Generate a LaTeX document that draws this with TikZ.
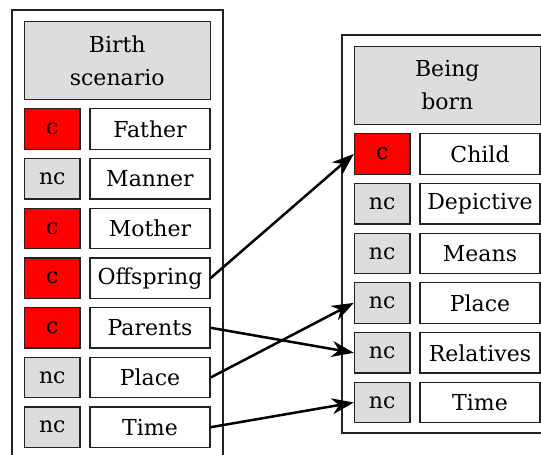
\documentclass[tikz,border=0pt]{standalone}
\usepackage{fontspec}
\setmainfont{DejaVu Serif}
\usetikzlibrary{arrows.meta}
\definecolor{boxgray}{HTML}{DDDDDD}
\definecolor{edge}{HTML}{222222}
\begin{document}
\begin{tikzpicture}[x=1pt,y=-1pt,
  every node/.style={font=\fontsize{22}{33}\selectfont, inner sep=0pt, draw=edge, line width=1.3pt, align=center},
  headbox/.style={fill=boxgray, minimum width=186pt, minimum height=78pt},
  ctag/.style={fill=red, minimum width=55.5pt, minimum height=40.5pt},
  nctag/.style={fill=boxgray, minimum width=55.5pt, minimum height=40.5pt},
  namebox/.style={fill=white, minimum width=120pt, minimum height=40.5pt},
  frame/.style={draw=edge, line width=1.3pt},
  link/.style={line width=2.5pt, -{Stealth[length=22pt,width=16pt,inset=7pt]}}]
\useasboundingbox (0,0) rectangle (541,455);
% frames
\draw[frame] (12,455) -- (12,10) -- (223,10) -- (223,455);
\draw[frame] (541,35) -- (342,35) -- (342,433) -- (541,433);
% left
\node[headbox] (lh) at (117.25,60.7) {Birth\\scenario};
\node[ctag] (lfathert) at (52.25,129) {c};
\node[namebox] (lfather) at (150,129) {Father};
\node[nctag] (lmannert) at (52.25,178.7) {nc};
\node[namebox] (lmanner) at (150,178.7) {Manner};
\node[ctag] (lmothert) at (52.25,228.4) {c};
\node[namebox] (lmother) at (150,228.4) {Mother};
\node[ctag] (loffspringt) at (52.25,278.1) {c};
\node[namebox] (loffspring) at (150,278.1) {Offspring};
\node[ctag] (lparentst) at (52.25,327.8) {c};
\node[namebox] (lparents) at (150,327.8) {Parents};
\node[nctag] (lplacet) at (52.25,377.5) {nc};
\node[namebox] (lplace) at (150,377.5) {Place};
\node[nctag] (ltimet) at (52.25,427.2) {nc};
\node[namebox] (ltime) at (150,427.2) {Time};
% right
\node[headbox] (rh) at (447.3,85.2) {Being\\born};
\node[ctag] (rchildt) at (382.2,154) {c};
\node[namebox] (rchild) at (480,154) {Child};
\node[nctag] (rdept) at (382.2,203.7) {nc};
\node[namebox] (rdep) at (480,203.7) {Depictive};
\node[nctag] (rmeanst) at (382.2,253.4) {nc};
\node[namebox] (rmeans) at (480,253.4) {Means};
\node[nctag] (rplacet) at (382.2,302.9) {nc};
\node[namebox] (rplace) at (480,302.9) {Place};
\node[nctag] (rrelt) at (382.2,352.8) {nc};
\node[namebox] (rrel) at (480,352.8) {Relatives};
\node[nctag] (rtimet) at (382.2,402.5) {nc};
\node[namebox] (rtime) at (480,402.5) {Time};
% links
\draw[link] (loffspring.east) -- (rchildt.west);
\draw[link] (lparents.east) -- (rrelt.west);
\draw[link] (lplace.east) -- (rplacet.west);
\draw[link] (ltime.east) -- (rtimet.west);
\end{tikzpicture}
\end{document}
